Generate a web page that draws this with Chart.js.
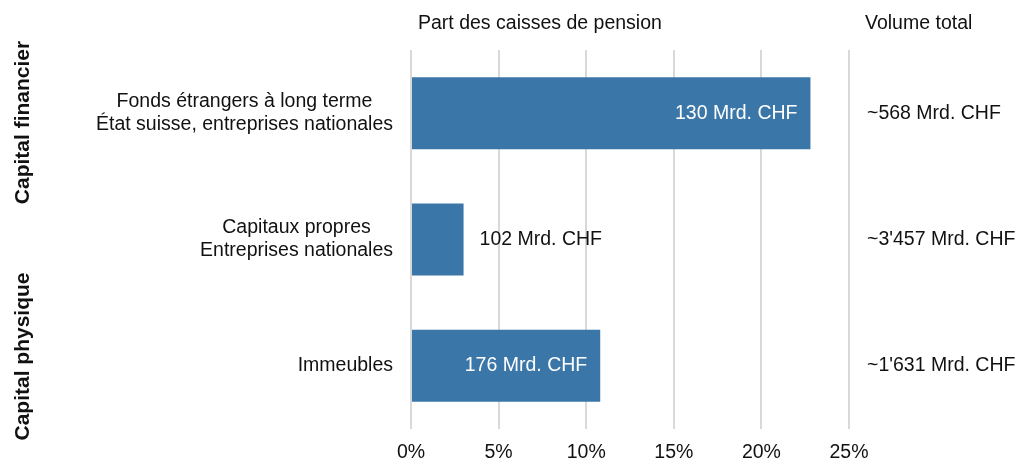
<!DOCTYPE html>
<html lang="fr">
<head>
    <meta charset="UTF-8">
    <title>Part des caisses de pension</title>
    <script src="https://cdn.jsdelivr.net/npm/chart.js@4.4.0/dist/chart.umd.min.js"></script>
    <style>
        html, body { margin: 0; padding: 0; background: #fff; }
        .canvas-container { width: 1018px; height: 464px; }
    </style>
</head>
<body>
    <div class="canvas-container">
        <canvas id="myChart" width="1018" height="464"></canvas>
    </div>

    <script>
        const categories = [
            ['Fonds étrangers à long terme', 'État suisse, entreprises nationales'],
            ['Capitaux propres', 'Entreprises nationales'],
            ['Immeubles']
        ];
        const shares = [22.8, 3.0, 10.8];          // % held by pension funds
        const amounts = ['130 Mrd. CHF', '102 Mrd. CHF', '176 Mrd. CHF'];
        const volumes = ['~568 Mrd. CHF', "~3'457 Mrd. CHF", "~1'631 Mrd. CHF"];
        const groups = ['Capital financier', 'Capital physique'];

        const FONT = "'Liberation Sans', Arial, sans-serif";
        const SIZE = 19.5;
        const barColor = '#3a76a8';

        // category labels (centred lines, right-aligned block), bar texts,
        // header row, volume column, group labels
        const extras = {
            id: 'extras',
            afterDatasetsDraw(chart) {
                const ctx = chart.ctx;
                const yScale = chart.scales.y;
                const meta = chart.getDatasetMeta(0);
                ctx.save();
                ctx.font = SIZE + 'px ' + FONT;
                ctx.textBaseline = 'middle';
                ctx.fillStyle = '#111';

                // category labels
                ctx.textAlign = 'center';
                const lh = 23;
                const right = yScale.right - 18;
                categories.forEach((lines, i) => {
                    const y = yScale.getPixelForTick(i);
                    const maxW = Math.max(...lines.map(l => ctx.measureText(l).width));
                    const cx = right - maxW / 2;
                    lines.forEach((l, k) => {
                        ctx.fillText(l, cx, y + (k - (lines.length - 1) / 2) * lh);
                    });
                });

                meta.data.forEach((bar, i) => {
                    const w = bar.x - bar.base;
                    if (w > 150) {
                        ctx.fillStyle = '#fff';
                        ctx.textAlign = 'right';
                        ctx.fillText(amounts[i], bar.x - 13, bar.y);
                    } else {
                        ctx.fillStyle = '#111';
                        ctx.textAlign = 'left';
                        ctx.fillText(amounts[i], bar.x + 16, bar.y);
                    }
                    ctx.fillStyle = '#111';
                    ctx.textAlign = 'left';
                    ctx.fillText(volumes[i], 867, bar.y);
                });

                ctx.fillStyle = '#111';
                ctx.textAlign = 'left';
                ctx.fillText('Part des caisses de pension', 418, 24);
                ctx.fillText('Volume total', 865, 24);

                // rotated group labels on the far left
                ctx.font = 'bold 21px ' + FONT;
                ctx.textAlign = 'center';
                const spans = [[40, 205], [273, 440]];
                groups.forEach((g, i) => {
                    ctx.save();
                    ctx.translate(23, (spans[i][0] + spans[i][1]) / 2);
                    ctx.rotate(-Math.PI / 2);
                    ctx.fillText(g, 0, 0);
                    ctx.restore();
                });
                ctx.restore();
            }
        };

        var ctx = document.getElementById('myChart').getContext('2d');
        var myChart = new Chart(ctx, {
            type: 'bar',
            data: {
                labels: categories,
                datasets: [{
                    data: shares,
                    backgroundColor: barColor,
                    borderWidth: 0,
                    categoryPercentage: 0.57,
                    barPercentage: 1
                }]
            },
            options: {
                indexAxis: 'y',
                responsive: false,
                animation: false,
                layout: {
                    padding: { top: 50, right: 169, bottom: 0, left: 0 }
                },
                plugins: {
                    legend: { display: false },
                    tooltip: { enabled: false }
                },
                scales: {
                    x: {
                        min: 0,
                        max: 25,
                        afterFit(scale) { scale.height = 35; },
                        ticks: {
                            stepSize: 5,
                            color: '#111',
                            font: { family: FONT, size: SIZE },
                            padding: 12,
                            callback: v => v + '%'
                        },
                        grid: { color: '#d9d9d9', lineWidth: 2, drawTicks: false },
                        border: { display: false }
                    },
                    y: {
                        afterFit(scale) {
                            scale.width = 411;
                            scale.paddingTop = 0;
                            scale.paddingBottom = 0;
                        },
                        ticks: { display: false },
                        grid: { display: false },
                        border: { display: false }
                    }
                }
            },
            plugins: [extras]
        });
    </script>
</body>
</html>
